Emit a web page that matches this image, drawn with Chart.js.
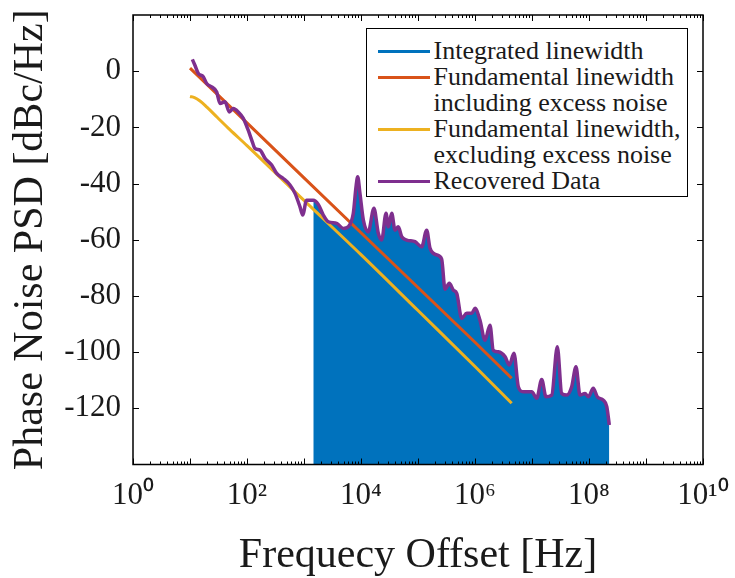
<!DOCTYPE html>
<html>
<head>
<meta charset="utf-8">
<title>Phase noise PSD</title>
<script src="https://cdn.jsdelivr.net/npm/chart.js@4.4.1/dist/chart.umd.min.js"></script>
<style>
    html, body { margin: 0; padding: 0; background: #fff; }
    #wrap { position: relative; width: 735px; height: 578px; }
    #legend {
        position: absolute; left: 366px; top: 28px; width: 322px; height: 169px;
        box-sizing: border-box; border: 1.5px solid #000; background: #fff;
        padding-top: 9px;
        font-family: "Liberation Serif", serif; font-size: 26px; line-height: 26px; color: #1a1a1a;
    }
    .item { display: flex; align-items: flex-start; }
    .swatch { flex: none; width: 52px; height: 3px; margin: 11.5px 4px 0 10.5px; }
</style>
</head>
<body>
<div id="wrap">
    <canvas id="psdChart" width="735" height="578"></canvas>
    <div id="legend"></div>
</div>
<script>
// recovered phase noise trace (Hz, dBc/Hz)
const recFreq = [11, 12.2, 14.0, 17.1, 19.6, 24.0, 29.4, 33.6, 41.1, 48.9, 57.5, 70.3, 86.1, 105, 121, 138, 169, 207, 271, 332,
    433, 568, 695, 851, 948, 1110, 1456, 1780, 2180, 2670, 3750, 4890, 5980, 7330, 8170, 8750, 9590, 11000, 13400, 16900,
    20100, 23100, 27500, 30100, 34600, 39500, 45100, 51700, 63300, 88500, 116000, 142000, 163000, 213000, 260000, 298000,
    354000, 416000, 478000, 585000, 715000, 875000, 1.0e6, 1.22e6, 1.5e6, 1.83e6, 2.09e6, 2.56e6, 3.36e6, 4.0e6, 4.83e6,
    5.75e6, 7.03e6, 9.88e6, 1.21e7, 1.48e7, 1.76e7, 2.22e7, 2.78e7, 3.32e7, 4.06e7, 4.97e7, 5.91e7, 6.95e7, 8.51e7, 9.73e7,
    1.19e8, 1.40e8, 1.78e8, 2.05e8, 2.27e8];
const recDb = [4.2, 2.1, -0.8, -2.0, -4.4, -5.6, -7.4, -11.5, -10.9, -14.5, -13.3, -14.5, -16.8, -21.0, -24.5, -27.5, -28.1, -31.0, -33.4, -36.4,
    -38.2, -40.5, -43.5, -48.3, -51.2, -45.9, -45.9, -47.4, -51.2, -53.6, -54.2, -56.0, -55.4, -50.6, -41.2, -37.6, -43.5, -53.0, -57.2, -48.8,
    -57.7, -60.1, -50.6, -55.4, -50.6, -56.6, -55.4, -58.9, -60.1, -60.7, -62.5, -56.6, -63.1, -65.4, -66.9, -77.6,
    -75.5, -77.9, -79.1, -88.0, -86.2, -86.2, -84.4, -88.6, -95.8, -90.4, -99.3, -99.9, -101.6, -104.6, -100.4,
    -112.3, -114.1, -114.1, -116.4, -109.7, -115.9, -115.3, -98.1, -114.7, -115.3, -112.3, -105.2, -115.3, -114.7, -115.9,
    -112.9, -115.9, -117.1, -119.4, -125.9];

// integration of the trace starts here
const intStartHz = 1456;

// fundamental linewidth including excess noise
const incFreq = [10, 100, 1000, 1e4, 1e5, 1e6, 4.4e6];
const incDb = [1.1, -18.4, -38.0, -57.5, -77.0, -96.5, -109.3];

// fundamental linewidth excluding excess noise
const excFreq = [10, 12, 15, 20, 30, 50, 100, 1000, 1e4, 1e5, 1e6, 4.4e6];
const excDb = [-9.0, -9.4, -10.6, -12.9, -16.4, -20.8, -26.5, -46.0, -65.3, -85.2, -105.1, -118.2];

const xTickExps = [0, 2, 4, 6, 8, 10];
const yTicks = [-120, -100, -80, -60, -40, -20, 0];

const serif = '"Liberation Serif", serif';
const textCol = '#1a1a1a';
const sup = ['⁰', '¹', '²', '³', '⁴', '⁵', '⁶', '⁷', '⁸', '⁹'];

function pts(fs, ds) {
    return fs.map((f, i) => ({x: f, y: ds[i]}));
}

const intPts = pts(recFreq, recDb).filter(p => p.x >= intStartHz);

// no extra room for tick labels, the plot box is placed by hand
function noPad(s) {
    s.paddingTop = 0; s.paddingBottom = 0; s.paddingLeft = 0; s.paddingRight = 0;
}

// MATLAB style box with inward ticks on all sides
const frameTicks = {
    id: 'frameTicks',
    afterDatasetsDraw(chart) {
        const {ctx, chartArea: a, scales: {x, y}} = chart;
        ctx.save();
        ctx.strokeStyle = '#000';
        ctx.lineWidth = 1;
        ctx.beginPath();
        for (let k = 0; k <= 10; k++) {
            for (let m = 1; m <= 9; m++) {
                if (k === 10 && m > 1) break;
                const px = Math.round(x.getPixelForValue(m * Math.pow(10, k))) + 0.5;
                const len = m === 1 ? 6 : 3;
                ctx.moveTo(px, a.bottom); ctx.lineTo(px, a.bottom - len);
                ctx.moveTo(px, a.top); ctx.lineTo(px, a.top + len);
            }
        }
        yTicks.forEach(v => {
            const py = Math.round(y.getPixelForValue(v)) + 0.5;
            ctx.moveTo(a.left, py); ctx.lineTo(a.left + 6, py);
            ctx.moveTo(a.right, py); ctx.lineTo(a.right - 6, py);
        });
        ctx.stroke();
        ctx.lineWidth = 1.5;
        ctx.strokeRect(a.left, a.top, a.right - a.left, a.bottom - a.top);
        ctx.restore();
    }
};

const chart = new Chart(document.getElementById('psdChart'), {
    type: 'line',
    data: {
        datasets: [{
            label: 'Integrated linewidth',
            data: intPts,
            borderColor: '#0072BD',
            backgroundColor: '#0072BD',
            borderWidth: 1,
            fill: 'start',
            cubicInterpolationMode: 'monotone',
            order: 4
        }, {
            label: 'Fundamental linewidth\nincluding excess noise',
            data: pts(incFreq, incDb),
            borderColor: '#D95319',
            borderWidth: 3,
            fill: false,
            order: 3
        }, {
            label: 'Fundamental linewidth,\nexcluding excess noise',
            data: pts(excFreq, excDb),
            borderColor: '#EDB120',
            borderWidth: 3,
            fill: false,
            cubicInterpolationMode: 'monotone',
            order: 2
        }, {
            label: 'Recovered Data',
            data: pts(recFreq, recDb),
            borderColor: '#7E2F8E',
            borderWidth: 3.5,
            fill: false,
            cubicInterpolationMode: 'monotone',
            order: 1
        }]
    },
    options: {
        responsive: false,
        animation: false,
        layout: {padding: {top: 15, right: 32, left: 0, bottom: 0}},
        elements: {point: {radius: 0}},
        plugins: {legend: {display: false}, tooltip: {enabled: false}},
        scales: {
            x: {
                type: 'logarithmic',
                min: 1,
                max: 1e10,
                grid: {display: false},
                border: {display: false},
                afterBuildTicks: s => { s.ticks = xTickExps.map(k => ({value: Math.pow(10, k)})); },
                afterFit: s => { s.height = 113.5; noPad(s); },
                ticks: {
                    autoSkip: false,
                    maxRotation: 0,
                    padding: 5,
                    color: textCol,
                    font: {family: serif, size: 31},
                    callback: v => {
                        const k = Math.round(Math.log10(v));
                        return '10' + String(k).split('').map(d => sup[+d]).join('');
                    }
                },
                title: {
                    display: true,
                    text: 'Frequecy Offset [Hz]',
                    color: textCol,
                    font: {family: serif, size: 42, lineHeight: 1},
                    padding: {top: 0, bottom: 1}
                }
            },
            y: {
                min: -140,
                max: 20,
                grid: {display: false},
                border: {display: false},
                afterBuildTicks: s => { s.ticks = yTicks.map(v => ({value: v})); },
                afterFit: s => { s.width = 133; noPad(s); },
                ticks: {
                    padding: 4,
                    color: textCol,
                    font: {family: serif, size: 31}
                },
                title: {
                    display: true,
                    text: 'Phase Noise PSD [dBc/Hz]',
                    color: textCol,
                    font: {family: serif, size: 42, lineHeight: 1},
                    padding: {top: 10, bottom: 0}
                }
            }
        }
    },
    plugins: [frameTicks]
});

// legend box built from the datasets
const legend = document.getElementById('legend');
chart.data.datasets.forEach(ds => {
    const item = document.createElement('div');
    item.className = 'item';
    const sw = document.createElement('span');
    sw.className = 'swatch';
    sw.style.background = ds.borderColor;
    const txt = document.createElement('span');
    txt.innerHTML = ds.label.split('\n').join('<br>');
    item.appendChild(sw);
    item.appendChild(txt);
    legend.appendChild(item);
});
</script>
</body>
</html>
